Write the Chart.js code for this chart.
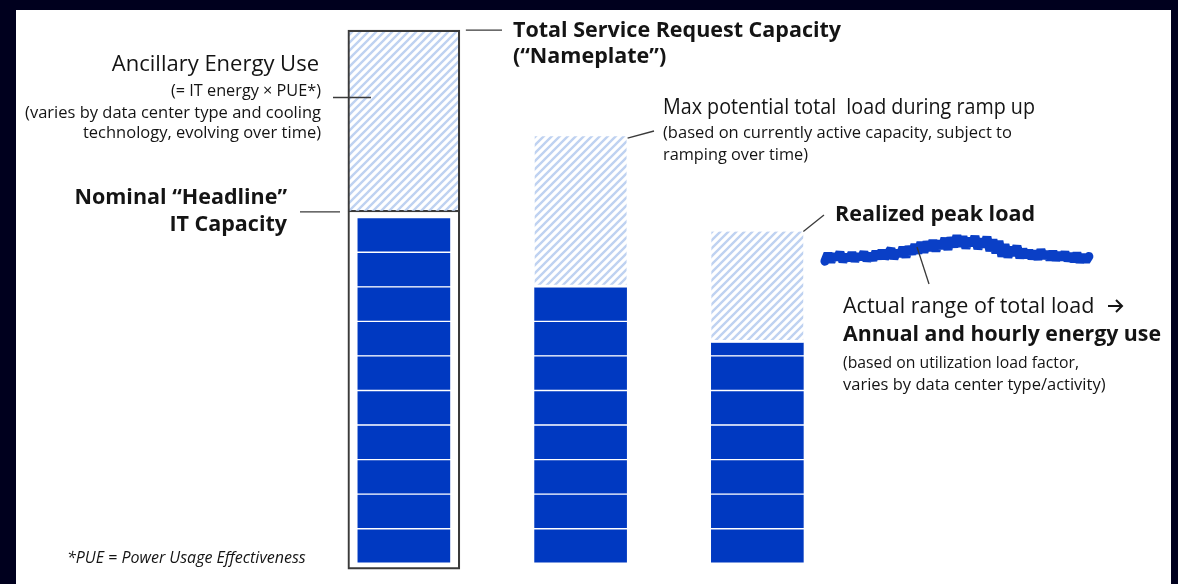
<!DOCTYPE html>
<html>
<head>
<meta charset="utf-8">
<script src="https://cdn.jsdelivr.net/npm/chart.js@4.4.1/dist/chart.umd.min.js"></script>
<style>
  html, body { margin: 0; padding: 0; background: #00001e; overflow: hidden; }
  #panel { position: absolute; left: 16px; top: 10px; width: 1155px; height: 574px; background: #fff; }
  #wrap { position: absolute; left: 0; top: 0; width: 1178px; height: 584px; }
</style>
</head>
<body>
<div id="panel"></div>
<div id="wrap"><canvas id="capacityChart"></canvas></div>
<script>
// stages of a data center's load (one bar each)
const stages = ['Total Service Request Capacity (Nameplate)', 'Max potential total load during ramp up', 'Realized peak load'];
// total load incl. ancillary energy, in IT blocks
const totalLoad = [15.43, 12.36, 9.6];
// IT load, in IT blocks
const itLoad = [10, 8, 6.4];
// nominal "headline" IT capacity line on the nameplate bar
const headlineIT = 10.17;
// hourly realized load (the squiggle), same units
const hourlyLoad = [
  8.74, 8.96, 8.72, 8.94, 8.80, 9.00, 8.73, 8.92, 8.78, 8.98, 8.75, 8.93, 8.82, 9.00, 8.76,
  8.95, 8.78, 9.02, 8.82, 9.05, 8.84, 8.96, 9.10, 8.82, 9.04, 8.90, 9.14, 8.86, 9.16, 8.95,
  9.22, 8.98, 9.28, 9.00, 9.30, 9.06, 9.34, 9.04, 9.32, 9.12, 9.40, 9.08, 9.42, 9.16, 9.48,
  9.18, 9.45, 9.12, 9.40, 9.20, 9.46, 9.10, 9.38, 9.16, 9.44, 9.04, 9.36, 8.98,
  9.32, 8.88, 9.22, 8.86, 9.14, 8.92, 9.18, 8.84,
  9.08, 8.86, 9.05, 8.82, 9.03, 8.80, 9.07, 8.84, 9.00, 8.79, 9.02, 8.78, 8.98, 8.80, 9.00,
  8.76, 8.95, 8.74, 8.97, 8.72, 8.92, 8.74, 8.88
];

const framePad = 0.17;
const blue = '#0039c1';
const lineGray = '#3a3a3a';
const FONT = '"Open Sans", "Noto Sans", sans-serif';

const canvas = document.getElementById('capacityChart');
const chartCtx = canvas.getContext('2d');

// light blue diagonal hatch
function stripes() {
  const c = document.createElement('canvas');
  c.width = 8; c.height = 8;
  const g = c.getContext('2d');
  g.strokeStyle = '#bfd2f1';
  g.lineWidth = 2.4;
  g.beginPath();
  g.moveTo(-2, 10); g.lineTo(10, -2);
  g.moveTo(-2, 2); g.lineTo(2, -2);
  g.moveTo(6, 10); g.lineTo(10, 6);
  g.stroke();
  return chartCtx.createPattern(c, 'repeat');
}
const hatch = stripes();

// one dataset per IT block, stacked bottom-up
const blockSets = [];
for (let k = 0; k < Math.ceil(Math.max(...itLoad)); k++) {
  blockSets.push({
    label: 'IT block ' + (k + 1),
    data: itLoad.map((v, i) => v > k ? { x: i, y: [k, Math.min(k + 1, v)] } : null).filter(Boolean),
    backgroundColor: blue,
    borderColor: '#ffffff',
    borderWidth: 1,
    borderSkipped: false,
    barThickness: 94,
    grouped: false,
    order: 3
  });
}

const datasets = [
  ...blockSets,
  {
    label: 'Ancillary energy (nameplate)',
    data: [{ x: 0, y: [headlineIT, totalLoad[0]] }],
    backgroundColor: hatch,
    borderColor: lineGray,
    borderWidth: { top: 0, left: 0, right: 0, bottom: 1.5 },
    borderSkipped: false,
    barThickness: 112,
    grouped: false,
    order: 2
  },
  {
    label: 'Headroom above IT load',
    data: itLoad.map((v, i) => ({ x: i, y: [v, totalLoad[i]] })).slice(1),
    backgroundColor: hatch,
    borderColor: '#ffffff',
    borderWidth: { top: 0, left: 0, right: 0, bottom: 2.5 },
    borderSkipped: false,
    barThickness: 92,
    grouped: false,
    order: 2
  },
  {
    label: 'Nameplate frame',
    data: [{ x: 0, y: [-framePad, totalLoad[0]] }],
    backgroundColor: 'rgba(0,0,0,0)',
    borderColor: lineGray,
    borderWidth: 1.5,
    borderSkipped: false,
    barThickness: 112,
    grouped: false,
    order: 1
  },
  {
    type: 'line',
    label: 'Hourly load',
    xAxisID: 'xh',
    data: hourlyLoad.map((v, i) => ({ x: i, y: v })),
    borderColor: '#0a3fc6',
    borderWidth: 9,
    borderJoinStyle: 'bevel',
    borderCapStyle: 'round',
    pointRadius: 0,
    tension: 0,
    order: 0
  }
];

function text(ctx, str, x, y, size, opts = {}) {
  ctx.save();
  ctx.font = (opts.style || '') + ' ' + (opts.bold ? 'bold ' : '') + size + 'px ' + FONT;
  ctx.fillStyle = '#141414';
  ctx.textAlign = opts.align || 'left';
  ctx.textBaseline = 'middle';
  if (opts.maxW) ctx.fillText(str, x, y, opts.maxW); else ctx.fillText(str, x, y);
  ctx.restore();
}

function leader(ctx, x1, y1, x2, y2) {
  ctx.save();
  ctx.strokeStyle = lineGray;
  ctx.lineWidth = 1.3;
  ctx.beginPath();
  ctx.moveTo(x1, y1);
  ctx.lineTo(x2, y2);
  ctx.stroke();
  ctx.restore();
}

function arrow(ctx, x1, x2, yy) {
  ctx.save();
  ctx.strokeStyle = '#141414';
  ctx.lineWidth = 2;
  ctx.lineJoin = 'miter';
  ctx.beginPath();
  ctx.moveTo(x1, yy);
  ctx.lineTo(x2, yy);
  ctx.moveTo(x2 - 6, yy - 6);
  ctx.lineTo(x2, yy);
  ctx.lineTo(x2 - 6, yy + 6);
  ctx.stroke();
  ctx.restore();
}

const notes = {
  id: 'notes',
  afterDraw(chart) {
    const { ctx, scales: { x, y } } = chart;

    // nameplate
    const topY = y.getPixelForValue(totalLoad[0]);
    leader(ctx, x.getPixelForValue(0) + 62, topY, 502, topY);
    text(ctx, 'Total Service Request Capacity', 513, 31, 21.5, { bold: true, maxW: 333 });
    text(ctx, '(\u201cNameplate\u201d)', 513, 57, 21.5, { bold: true, maxW: 160 });

    // ancillary
    leader(ctx, 333, 97.5, 371, 97.5);
    text(ctx, 'Ancillary Energy Use', 319, 65, 22, { align: 'right', maxW: 208 });
    text(ctx, '(= IT energy \u00d7 PUE*)', 321, 91, 16.5, { align: 'right', maxW: 150 });
    text(ctx, '(varies by data center type and cooling', 321, 113, 16.5, { align: 'right', maxW: 297 });
    text(ctx, 'technology, evolving over time)', 321, 133, 16.5, { align: 'right', maxW: 238 });

    // headline IT
    const hY = y.getPixelForValue(headlineIT);
    leader(ctx, 300, hY, 340, hY);
    text(ctx, 'Nominal \u201cHeadline\u201d', 287, 198, 21.5, { bold: true, align: 'right', maxW: 218 });
    text(ctx, 'IT Capacity', 287, 225, 21.5, { bold: true, align: 'right', maxW: 120 });

    // ramp up
    leader(ctx, x.getPixelForValue(1) + 47, y.getPixelForValue(totalLoad[1]) + 2, 654, 131);
    text(ctx, 'Max potential total  load during ramp up', 663, 108, 21, { maxW: 372 });
    text(ctx, '(based on currently active capacity, subject to', 663, 133, 16.5, { maxW: 356 });
    text(ctx, 'ramping over time)', 663, 155, 16.5, { maxW: 145 });

    // realized peak
    leader(ctx, x.getPixelForValue(2) + 46, y.getPixelForValue(totalLoad[2]), 824, 215);
    text(ctx, 'Realized peak load', 835, 215, 21.5, { bold: true, maxW: 204 });

    // actual range
    leader(ctx, 917, 247, 929, 284);
    text(ctx, 'Actual range of total load', 843, 307, 21.5, { maxW: 256 });
    arrow(ctx, 1108, 1122, 306);
    text(ctx, 'Annual and hourly energy use', 843, 335, 21.5, { bold: true, maxW: 318 });
    text(ctx, '(based on utilization load factor,', 843, 363, 16.5, { maxW: 236 });
    text(ctx, 'varies by data center type/activity)', 843, 385, 16.5, { maxW: 265 });

    text(ctx, '*PUE = Power Usage Effectiveness', 67, 558, 16, { style: 'italic', maxW: 247 });
  }
};

new Chart(canvas, {
  type: 'bar',
  data: { datasets },
  options: {
    responsive: true,
    maintainAspectRatio: false,
    animation: false,
    events: [],
    layout: { padding: 0 },
    plugins: { legend: { display: false }, tooltip: { enabled: false } },
    scales: {
      x: { type: 'linear', offset: false, min: -2.285, max: 4.38, display: false },
      xh: { type: 'linear', offset: false, min: -275, max: 117.7, display: false },
      y: { type: 'linear', min: -0.6, max: 16.3, display: false }
    }
  },
  plugins: [notes]
});
</script>
</body>
</html>
